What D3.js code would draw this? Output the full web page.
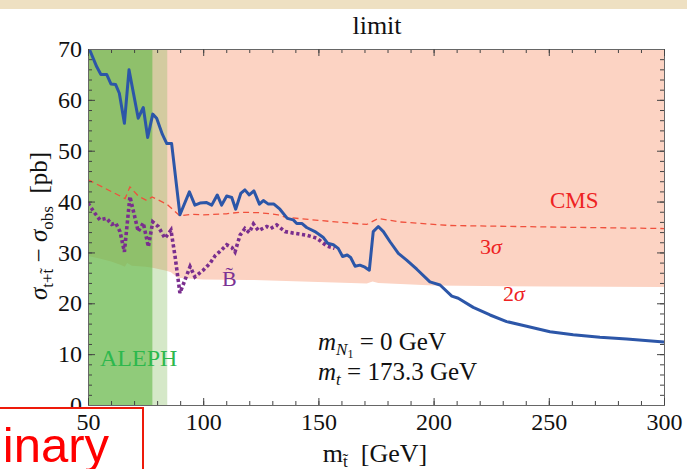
<!DOCTYPE html>
<html><head><meta charset="utf-8">
<script src="https://cdn.jsdelivr.net/npm/d3@7"></script>
<style>
html,body{margin:0;padding:0;background:#fff;}
svg{display:block;}
svg text{font-family:"Liberation Serif","Times New Roman",Times,serif;}
</style></head>
<body>
<script>
// ---------- data ----------
const blueMass  = [50,53.8,55.6,58.1,60,62,63.6,65.8,67.8,71.8,74,75.9,78.1,79.8,82.3,84.2,86.3,89.9,94,96.4,98.6,101.5,103.7,106.1,108,110.2,112.4,114.1,116.3,118.1,120,122,124.4,126.1,128.3,130.7,133.3,136.5,139.1,140.6,142.8,144.9,148.5,152,154,156.5,158.6,160.5,162.5,164,165.9,168,170.2,172.1,173.8,176,178.2,181.1,184.7,188.3,192.7,198.4,202.8,207.9,210.7,217.2,224.5,231.7,240.4,250.5,260.6,272.2,283.8,300];
const blueSigma = [70.6,66.5,65.0,65.0,63.1,63.0,61.3,55.4,65.9,56.4,58.5,52.6,57.2,56.4,53.2,51.4,51.4,37.4,41.9,39.3,39.7,39.8,39.3,41.3,39.3,41.1,40.8,38.5,41.6,42.3,41.3,42.1,39.5,40.2,39.5,39.5,38.5,36.7,36.4,35.7,35.7,34.9,34.1,33.0,31.8,31.5,30.8,29.2,29.5,29.0,27.3,27.5,27.1,26.5,34.1,35.1,34.1,32.1,29.8,28.5,26.7,24.2,23.6,21.4,21.0,19.2,17.7,16.4,15.5,14.4,13.8,13.3,13.0,12.4];

const binoMass  = [50,53,55.2,58.1,60.3,62,63.9,65.8,68.2,71.8,74,76.2,78.1,80.5,83.4,86,87.8,89.9,92.1,94.3,96.4,100,103,105.1,108,110.2,112.4,113.8,116,118.1,120,121.8,124,127.6,129.3,131.9,135.5,139.1,144.9,149.3,153.6,157];
const binoSigma = [39.7,37.7,36.4,36.7,35.5,35.8,34.1,30.1,41.0,34.1,35.8,31.1,36.0,35.1,32.8,34.4,29.2,22.0,24.6,27.2,25.2,26.5,27.9,29.3,30.5,31.5,31.0,30.1,33.4,34.7,33.9,35.6,34.3,35.1,34.7,35.4,34.1,33.8,33.4,32.8,31.3,30.8];

const cms3Mass  = [50,66.1,68.2,71.8,75.5,77.8,84.2,89.9,95,100,110,116,125,132.5,136,155,171,176,185,207,250,300];
const cms3Sigma = [44.3,40.6,42.9,41.1,40.2,40.9,39.5,37.2,37.5,37.4,37.6,37.9,37.8,37.4,36.9,36.1,35.5,36.7,36.0,35.3,35.0,34.7];

const cms2Mass  = [50,55,60,64,66,67,69,75,78,84,86,89,100,120,150,171,173.5,176,200,250,300];
const cms2Sigma = [29.3,28.8,28.2,27.6,27.2,27.9,27.4,27.2,27.0,26.4,26.1,25.0,24.7,24.6,24.2,23.9,24.3,24.0,23.5,23.3,23.2];

const alephExcl  = [50,78];     // ALEPH excluded mass range
const alephWeak  = [78,84.4];   // weaker ALEPH band
const xTicks = [50,100,150,200,250,300];
const yTicks = [0,10,20,30,40,50,60,70];

// ---------- layout ----------
const W = 687, H = 469;
const SERIF = "'Liberation Serif','Times New Roman',Times,serif";
const svg = d3.select("body").append("svg").attr("width",W).attr("height",H);
const x = d3.scaleLinear().domain([50,300]).range([88,664]);
const y = d3.scaleLinear().domain([0,70]).range([405,49]);

// slide background strip
svg.append("rect").attr("x",0).attr("y",0).attr("width",W).attr("height",9).attr("fill","#eee0c2");

svg.append("defs").append("clipPath").attr("id","plot")
  .append("rect").attr("x",x(50)).attr("y",y(70)).attr("width",x(300)-x(50)).attr("height",y(0)-y(70));

const g = svg.append("g").attr("clip-path","url(#plot)");

// CMS excluded region (pink), from 2sigma boundary up to top
const area = d3.area().x((d,i)=>x(cms2Mass[i])).y0((d,i)=>y(cms2Sigma[i])).y1(()=>y(70));
g.append("path").datum(cms2Sigma).attr("d",area).attr("fill","#fcd3c3");

// ALEPH bands
g.append("rect").attr("x",x(alephExcl[0])).attr("width",x(alephExcl[1])-x(alephExcl[0]))
  .attr("y",y(70)).attr("height",y(0)-y(70)).attr("fill","rgb(107,186,78)").attr("fill-opacity",0.75);
g.append("rect").attr("x",x(alephWeak[0])).attr("width",x(alephWeak[1])-x(alephWeak[0]))
  .attr("y",y(70)).attr("height",y(0)-y(70)).attr("fill","rgb(131,187,93)").attr("fill-opacity",0.34);

const line = (xs,ys)=>d3.line().x((d,i)=>x(xs[i])).y((d,i)=>y(ys[i]));
g.append("path").datum(cms3Sigma).attr("d",line(cms3Mass,cms3Sigma))
  .attr("fill","none").attr("stroke","#f0503c").attr("stroke-width",1.3).attr("stroke-dasharray","6,4");
g.append("path").datum(binoSigma).attr("d",line(binoMass,binoSigma))
  .attr("fill","none").attr("stroke","#7a2e8e").attr("stroke-width",3.6).attr("stroke-dasharray","3.2,2.6");
g.append("path").datum(blueSigma).attr("d",line(blueMass,blueSigma))
  .attr("fill","none").attr("stroke","#2c56a8").attr("stroke-width",3).attr("stroke-linejoin","round");

// ---------- axes ----------
const axisColor = "#666";
function styleAxis(sel){
  sel.attr("font-family",null).attr("font-size",null);
  sel.selectAll("path.domain").attr("stroke",axisColor);
  sel.selectAll(".tick line").attr("stroke","#444");
  sel.selectAll("text").style("font-family",SERIF).style("font-size","24px").attr("fill","#111");
}
const minorY = d3.range(0,71,2), minorX = d3.range(50,301,10);
// left
svg.append("g").attr("transform",`translate(${x(50)},0)`)
  .call(d3.axisLeft(y).tickValues(minorY).tickSize(-4).tickFormat("")).call(styleAxis);
svg.append("g").attr("transform",`translate(${x(50)},0)`)
  .call(d3.axisLeft(y).tickValues(yTicks).tickSize(-7).tickPadding(6).tickFormat(d3.format("d"))).call(styleAxis);
// right
svg.append("g").attr("transform",`translate(${x(300)},0)`)
  .call(d3.axisRight(y).tickValues(minorY).tickSize(-4).tickFormat("")).call(styleAxis);
svg.append("g").attr("transform",`translate(${x(300)},0)`)
  .call(d3.axisRight(y).tickValues(yTicks).tickSize(-7).tickFormat("")).call(styleAxis);
// top
svg.append("g").attr("transform",`translate(0,${y(70)})`)
  .call(d3.axisTop(x).tickValues(minorX).tickSize(-4).tickFormat("")).call(styleAxis);
svg.append("g").attr("transform",`translate(0,${y(70)})`)
  .call(d3.axisTop(x).tickValues(xTicks).tickSize(-7).tickFormat("")).call(styleAxis);

// Preliminary box (slide overlay)
svg.append("rect").attr("x",-3).attr("y",408).attr("width",146).attr("height",80)
  .attr("fill","#fff").attr("stroke","#ee1a0a").attr("stroke-width",2);
svg.append("text").attr("x",109).attr("y",462).attr("text-anchor","end")
  .style("font-family","'Liberation Sans',Arial,sans-serif").style("font-size","49px").attr("fill","#ff0000")
  .text("Preliminary");

// bottom
svg.append("g").attr("transform",`translate(0,${y(0)})`)
  .call(d3.axisBottom(x).tickValues(minorX).tickSize(-4).tickFormat("")).call(styleAxis);
svg.append("g").attr("transform",`translate(0,${y(0)})`)
  .call(d3.axisBottom(x).tickValues(xTicks).tickSize(-7).tickPadding(8).tickFormat(d3.format("d"))).call(styleAxis);

// ---------- texts ----------
svg.append("text").attr("x",377).attr("y",34).attr("text-anchor","middle").attr("font-size",26).attr("fill","#111").text("limit");

// y-axis title
const yt = svg.append("text").attr("transform","translate(47,226) rotate(-90)").attr("text-anchor","middle")
  .attr("font-size",25).attr("fill","#111");
yt.append("tspan").attr("font-style","italic").text("σ");
yt.append("tspan").attr("font-size",17).attr("dy",6).text("t+t\u0303");
yt.append("tspan").attr("dy",-6).text(" \u2212 ");
yt.append("tspan").attr("font-style","italic").text("σ");
yt.append("tspan").attr("font-size",17).attr("dy",6).text("obs");
yt.append("tspan").attr("dy",-6).text("\u00a0\u00a0[pb]");

// x-axis title
const xt = svg.append("text").attr("x",375).attr("y",462).attr("text-anchor","middle").attr("font-size",26).attr("fill","#111");
xt.append("tspan").text("m");
xt.append("tspan").attr("font-size",17).attr("dy",5).text("t\u0303");
xt.append("tspan").attr("dy",-5).text("\u00a0\u00a0[GeV]");

// annotations
const a1 = svg.append("text").attr("x",318).attr("y",350).attr("font-size",25).attr("fill","#111");
a1.append("tspan").attr("font-style","italic").text("m");
a1.append("tspan").attr("font-style","italic").attr("font-size",17).attr("dy",5).text("N");
a1.append("tspan").attr("font-size",12).attr("dy",3).text("1");
a1.append("tspan").attr("dy",-8).text(" = 0 GeV");
const a2 = svg.append("text").attr("x",318).attr("y",380).attr("font-size",25).attr("fill","#111");
a2.append("tspan").attr("font-style","italic").text("m");
a2.append("tspan").attr("font-style","italic").attr("font-size",17).attr("dy",5).text("t");
a2.append("tspan").attr("dy",-5).text(" = 173.3 GeV");

svg.append("text").attr("x",550).attr("y",208).attr("font-size",23).attr("fill","#ee2222").text("CMS");
const s3 = svg.append("text").attr("x",480).attr("y",254).attr("font-size",22).attr("fill","#ee2222");
s3.append("tspan").text("3"); s3.append("tspan").attr("font-style","italic").text("σ");
const s2 = svg.append("text").attr("x",503).attr("y",301).attr("font-size",22).attr("fill","#ee2222");
s2.append("tspan").text("2"); s2.append("tspan").attr("font-style","italic").text("σ");
svg.append("text").attr("x",222).attr("y",286).attr("font-size",22).attr("fill","#7b3294").text("B\u0303");
svg.append("text").attr("x",100).attr("y",366).attr("font-size",24).attr("fill","#2db84d").text("ALEPH");
</script>
</body></html>
